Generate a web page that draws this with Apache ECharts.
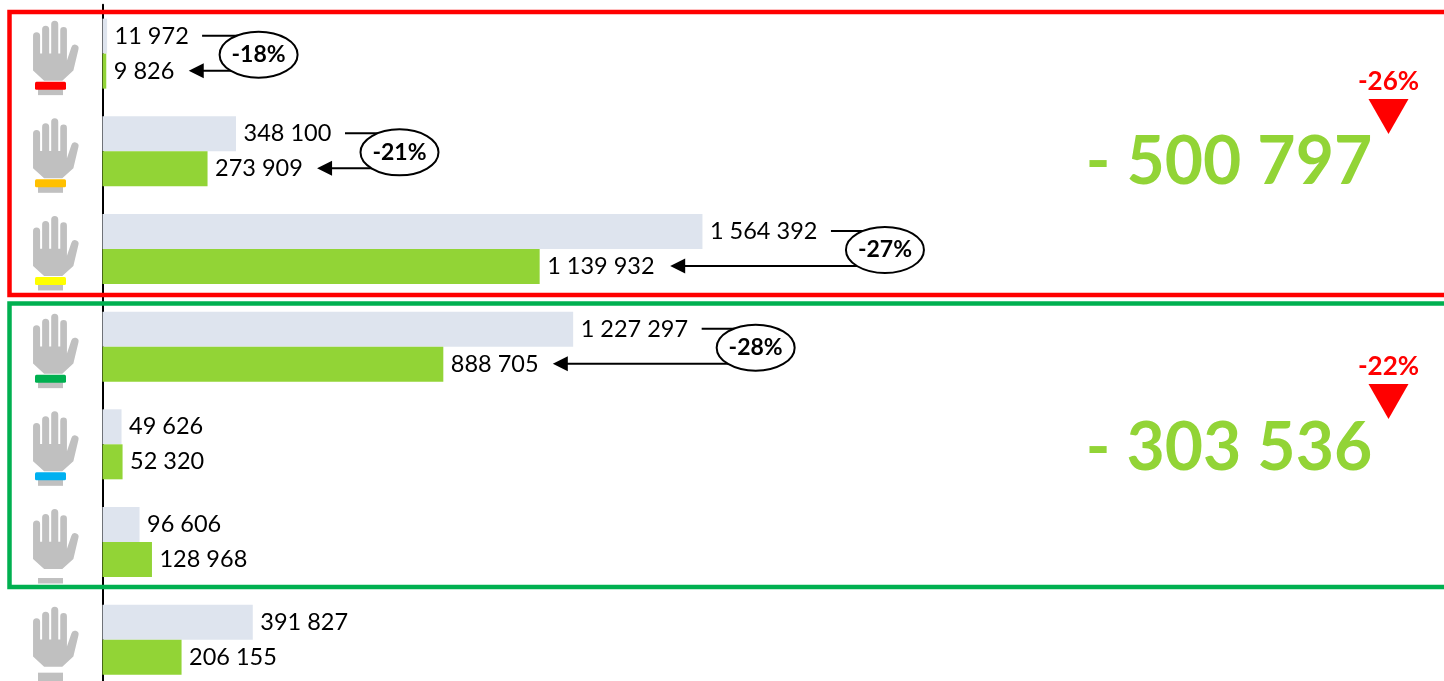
<!DOCTYPE html>
<html><head><meta charset="utf-8"><style>html,body{margin:0;padding:0;background:#fff}#c{width:1444px;height:681px}</style>
<script src="https://cdn.jsdelivr.net/npm/echarts@6/dist/echarts.min.js"></script></head>
<body><div id="c"></div><script>
const categories = ['A','B','C','D','E','F','G'];
const previousValues = [11972, 348100, 1564392, 1227297, 49626, 96606, 391827];
const currentValues = [9826, 273909, 1139932, 888705, 52320, 128968, 206155];
const wristColors = ['#FF0000','#FFC000','#FFFF00','#00B050','#00B0F0','#FFFFFF',null];
const changeRows = [0, 1, 2, 3];
const changeLabels = ['-18%','-21%','-27%','-28%'];
const groupTotals = ['- 500 797','- 303 536'];
const groupPercents = ['-26%','-22%'];

const FONT = 'Lato, Carlito, sans-serif';
const LIGHT = '#DEE4EE', GREEN = '#92D436', GREY = '#C0C0C0';
const fmt = v => String(v).replace(/\B(?=(\d{3})+$)/g, ' ');
const handPath = 'M33 35.5a3.5 3.5 0 0 1 7 0L40 53L42 53L42 29a3.5 3.5 0 0 1 7 0L49 53L51 53L51 24a3.5 3.5 0 0 1 7 0L58 53L60 53L60 30a3.3 3.3 0 0 1 6.6 0L66.6 60L71 47a3.6 3.6 0 0 1 7 2L73 70L62 80L44 80L33 70Z';
// pixel offsets of the change annotations, from the bar ends
const startOff = [95, 109, 128.5, 128.5], tipOff = [82.5, 109.5, 130.5, 109.5], ellOff = [151.5, 163.5, 182.5, 182.5];

const chart = echarts.init(document.getElementById('c'), null, {renderer:'canvas'});
const barLabel = {show:true, position:'right', distance:7.5, color:'#000', fontFamily:FONT, fontSize:23.5, formatter:p => fmt(p.value)};

function renderHand(params, api){
  const i = api.value(1);
  const cy = api.coord([0, i])[1];
  const dy = cy - 53;
  const kids = [
    {type:'rect', shape:{x:38, y:cy+33, width:25, height:8.5}, style:{fill:GREY}},
    {type:'path', shape:{pathData:handPath, x:33, y:20+dy, width:45.6, height:60}, style:{fill:GREY}}
  ];
  const col = wristColors[i];
  if (col) kids.push({type:'rect', shape:{x:35, y:cy+28, width:31, height:8, r:1.5}, style:{fill:col}});
  return {type:'group', children:kids};
}
function renderChange(params, api){
  const k = api.value(0), r = changeRows[k];
  const cy = api.coord([0, r])[1];
  const a = api.coord([previousValues[r], r])[0], b = api.coord([currentValues[r], r])[0];
  const yT = cy - 18, yB = cy + 17;
  const ec = a + ellOff[k];
  const s1 = a + startOff[k], tip = b + tipOff[k];
  const st = {stroke:'#000', lineWidth:2};
  return {type:'group', children:[
    {type:'line', shape:{x1:s1, y1:yT, x2:ec-20, y2:yT}, style:st},
    {type:'line', shape:{x1:tip+12, y1:yB, x2:ec-20, y2:yB}, style:st},
    {type:'polygon', shape:{points:[[tip,yB],[tip+15,yB-7.5],[tip+15,yB+7.5]]}, style:{fill:'#000'}},
    {type:'ellipse', shape:{cx:ec, cy:cy+1, rx:39, ry:23}, style:{fill:'#fff', stroke:'#000', lineWidth:2}},
    {type:'text', style:{text:changeLabels[k], x:ec, y:cy+1, align:'center', verticalAlign:'middle', font:'bold 23px '+FONT, fill:'#000'}}
  ]};
}
function frame(y, h, col){
  return {type:'rect', z:100, shape:{x:9.5, y:y, width:1500, height:h}, style:{fill:'none', stroke:col, lineWidth:4.5}};
}
function summary(i, yText, yPct, yTri){
  return [
    {type:'text', z:50, style:{text:groupTotals[i], x:1229, y:yText, align:'center', verticalAlign:'middle', font:'bold 66px '+FONT, fill:GREEN}},
    {type:'text', z:50, style:{text:groupPercents[i], x:1388.5, y:yPct, align:'center', verticalAlign:'middle', font:'bold 26px '+FONT, fill:'#FF0000'}},
    {type:'polygon', z:50, shape:{points:[[1368.5,yTri],[1408.5,yTri],[1388.5,yTri+35]]}, style:{fill:'#FF0000'}}
  ];
}
chart.setOption({
  animation:false,
  grid:{left:102.5, top:4.8, width:767, height:683.7, containLabel:false, outerBoundsMode:'none'},
  xAxis:{type:'value', min:0, max:2000000, show:false},
  yAxis:{type:'category', data:categories, inverse:true, offset:0.5,
    axisLine:{show:true, lineStyle:{color:'#000', width:2}}, axisTick:{show:false}, axisLabel:{show:false}, splitLine:{show:false}},
  series:[
    {type:'bar', data:previousValues, barWidth:35, barGap:0, itemStyle:{color:LIGHT}, label:barLabel},
    {type:'bar', data:currentValues, barWidth:35, barGap:0, itemStyle:{color:GREEN}, label:barLabel},
    {type:'custom', renderItem:renderHand, data:categories.map((c,i)=>[0,i]), clip:false, z:3, silent:true},
    {type:'custom', renderItem:renderChange, data:changeRows.map((r,k)=>[k,r]), clip:false, z:5, silent:true}
  ],
  graphic:{elements:[
    frame(12, 283, '#FF0000'), frame(303.5, 283.5, '#00B050'),
    ...summary(0, 163, 82, 99), ...summary(1, 449, 367, 384)
  ]}
});
</script></body></html>
